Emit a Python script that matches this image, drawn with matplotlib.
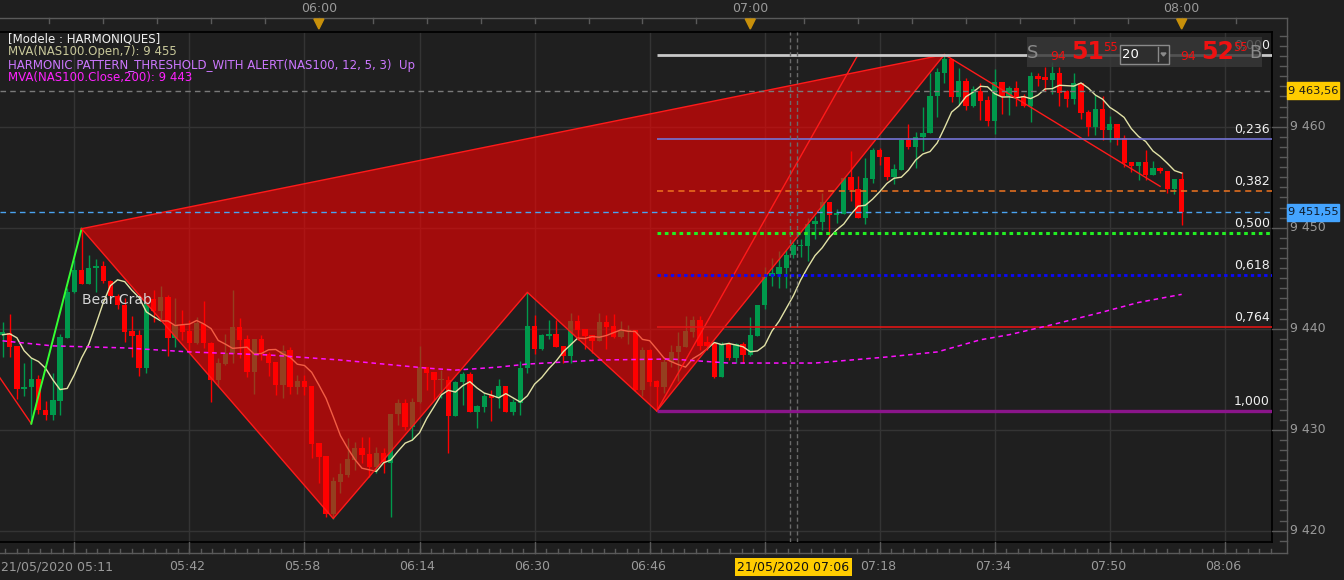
import numpy as np
import pandas as pd
import matplotlib
matplotlib.use("Agg")
import matplotlib.pyplot as plt
from matplotlib.patches import Rectangle, Polygon

# ---------------- data ----------------
start_time = "2020-05-21 05:16"
opens = [9439.4, 9439.6, 9438.3, 9434.0, 9434.2, 9435.0, 9432.0, 9431.5, 9432.8, 9439.1,
         9443.6, 9445.8, 9444.4, 9446.0, 9446.2, 9444.7, 9443.2, 9442.3, 9439.8, 9439.4,
         9436.1, 9442.9, 9441.8, 9443.1, 9439.1, 9440.4, 9439.8, 9438.6, 9440.5, 9438.6,
         9434.9, 9436.5, 9437.5, 9440.2, 9439.0, 9435.7, 9439.0, 9437.5, 9436.7, 9434.4,
         9437.9, 9434.2, 9434.8, 9434.3, 9428.7, 9427.4, 9421.7, 9424.8, 9425.5, 9427.0,
         9428.2, 9427.6, 9426.3, 9427.7, 9426.7, 9431.6, 9432.6, 9430.3, 9432.7, 9436.2,
         9435.7, 9434.9, 9434.9, 9431.4, 9434.7, 9435.5, 9431.8, 9432.2, 9433.4, 9433.1,
         9434.3, 9431.8, 9432.6, 9436.1, 9440.3, 9438.0, 9439.3, 9439.5, 9438.3, 9437.3,
         9440.8, 9440.0, 9439.4, 9438.8, 9440.7, 9440.3, 9439.2, 9439.8, 9439.9, 9433.9,
         9437.9, 9434.8, 9434.2, 9436.7, 9437.7, 9438.2, 9439.7, 9440.9, 9438.7, 9438.55,
         9435.25, 9438.5, 9437.1, 9438.5, 9437.4, 9439.3, 9442.3, 9445.2, 9445.4, 9446.0,
         9447.3, 9448.2, 9448.2, 9450.4, 9450.6, 9452.5, 9451.25, 9451.4, 9455.0, 9453.8,
         9451.0, 9454.8, 9457.7, 9457.0, 9455.0, 9455.7, 9458.7, 9458.0, 9459.0, 9459.4,
         9463.0, 9465.35, 9466.7, 9462.9, 9464.5, 9462.1, 9463.5, 9462.6, 9460.6, 9464.4,
         9463.0, 9463.8, 9463.0, 9462.1, 9465.0, 9464.9, 9464.6, 9465.35, 9463.5, 9462.7,
         9464.3, 9461.5, 9460.0, 9461.75, 9459.7, 9460.3, 9458.9, 9456.5, 9456.1, 9456.5,
         9455.2, 9455.9, 9455.6, 9453.8, 9454.8]
highs = [9440.7, 9441.5, 9438.3, 9436.6, 9437.1, 9435.4, 9432.8, 9435.6, 9439.5, 9444.0,
         9446.8, 9449.9, 9447.3, 9446.9, 9446.7, 9444.8, 9443.4, 9443.0, 9441.3, 9439.9,
         9442.7, 9443.8, 9444.2, 9443.3, 9443.0, 9441.9, 9440.9, 9441.2, 9442.7, 9438.7,
         9437.1, 9439.5, 9443.8, 9441.1, 9439.4, 9439.0, 9439.4, 9437.7, 9436.7, 9438.4,
         9438.2, 9435.4, 9435.4, 9434.3, 9428.7, 9427.4, 9425.3, 9426.7, 9429.2, 9428.8,
         9429.3, 9429.3, 9428.3, 9428.2, 9431.6, 9433.0, 9433.0, 9433.1, 9438.3, 9436.2,
         9435.7, 9435.9, 9435.3, 9434.8, 9435.7, 9435.7, 9432.4, 9433.6, 9433.9, 9435.0,
         9434.3, 9433.0, 9436.8, 9443.6, 9441.4, 9439.5, 9440.9, 9440.9, 9438.3, 9441.6,
         9441.4, 9440.0, 9439.4, 9441.6, 9441.4, 9441.5, 9440.8, 9440.4, 9439.9, 9438.2,
         9438.0, 9434.9, 9437.0, 9438.4, 9439.7, 9441.3, 9441.3, 9441.3, 9439.3, 9438.7,
         9438.7, 9438.7, 9438.6, 9438.7, 9441.2, 9442.3, 9446.1, 9447.0, 9447.7, 9447.8,
         9448.6, 9448.85, 9451.0, 9451.2, 9453.4, 9452.5, 9451.9, 9455.05, 9457.6, 9455.1,
         9456.9, 9457.9, 9457.9, 9457.0, 9456.3, 9458.75, 9460.3, 9459.5, 9462.0, 9465.3,
         9465.8, 9467.1, 9466.7, 9465.8, 9464.8, 9464.0, 9464.3, 9463.0, 9465.7, 9464.4,
         9464.0, 9464.5, 9463.2, 9465.4, 9465.3, 9465.9, 9466.4, 9465.9, 9463.6, 9465.3,
         9464.3, 9461.7, 9463.1, 9463.0, 9461.06, 9460.3, 9459.2, 9456.5, 9456.5, 9457.7,
         9456.6, 9456.0, 9455.6, 9454.8, 9455.5]
lows = [9437.2, 9437.2, 9433.0, 9433.3, 9430.6, 9431.6, 9431.0, 9431.0, 9431.5, 9439.1,
        9443.5, 9444.4, 9444.4, 9443.6, 9444.5, 9442.8, 9442.0, 9438.7, 9437.2, 9435.3,
        9435.6, 9440.7, 9440.9, 9437.3, 9438.2, 9438.9, 9437.7, 9438.5, 9438.1, 9432.7,
        9434.3, 9436.4, 9436.6, 9437.1, 9435.2, 9433.5, 9436.9, 9435.3, 9433.4, 9433.1,
        9433.5, 9433.5, 9433.4, 9427.2, 9424.7, 9421.4, 9421.2, 9423.7, 9425.3, 9426.0,
        9426.7, 9425.3, 9425.7, 9425.7, 9421.4, 9430.5, 9430.0, 9429.0, 9432.6, 9433.9,
        9432.9, 9433.1, 9427.7, 9431.4, 9432.4, 9431.8, 9430.2, 9431.8, 9430.9, 9432.1,
        9431.8, 9431.5, 9431.5, 9435.6, 9437.5, 9437.9, 9439.0, 9438.2, 9436.6, 9436.6,
        9438.9, 9438.0, 9437.6, 9438.8, 9438.0, 9439.1, 9439.1, 9438.5, 9433.8, 9433.3,
        9434.3, 9431.85, 9433.6, 9436.2, 9434.8, 9438.2, 9439.2, 9437.9, 9437.9, 9435.1,
        9435.2, 9436.9, 9436.6, 9436.6, 9437.3, 9439.3, 9442.0, 9444.2, 9444.0, 9444.0,
        9447.0, 9447.1, 9446.7, 9448.9, 9449.8, 9449.1, 9450.5, 9451.4, 9452.6, 9451.0,
        9450.4, 9454.4, 9456.2, 9454.7, 9454.3, 9455.7, 9457.8, 9455.9, 9457.6, 9459.4,
        9461.0, 9464.3, 9462.4, 9462.2, 9461.7, 9462.0, 9460.7, 9460.1, 9459.3, 9461.3,
        9461.2, 9462.1, 9462.0, 9460.5, 9464.0, 9463.5, 9463.2, 9462.1, 9462.0, 9462.3,
        9460.8, 9459.1, 9459.2, 9458.7, 9458.5, 9458.2, 9456.0, 9455.5, 9454.7, 9454.7,
        9455.2, 9455.4, 9453.4, 9453.3, 9450.3]
closes = [9439.7, 9438.2, 9434.0, 9434.2, 9435.0, 9432.0, 9431.5, 9432.9, 9439.2, 9443.6,
          9445.8, 9444.4, 9446.0, 9446.2, 9444.7, 9443.2, 9442.3, 9439.7, 9439.3, 9436.1,
          9442.5, 9441.8, 9443.1, 9439.1, 9440.4, 9439.7, 9438.6, 9440.6, 9438.6, 9434.9,
          9436.6, 9437.6, 9440.2, 9438.9, 9435.7, 9439.0, 9437.5, 9436.6, 9434.4, 9437.8,
          9434.2, 9434.8, 9434.2, 9428.6, 9427.3, 9421.7, 9424.9, 9425.6, 9427.1, 9428.2,
          9427.5, 9426.3, 9427.7, 9426.8, 9431.6, 9432.6, 9430.3, 9432.7, 9436.2, 9435.6,
          9434.9, 9435.0, 9431.4, 9434.7, 9435.5, 9431.8, 9432.3, 9433.3, 9433.1, 9434.3,
          9431.8, 9432.7, 9436.1, 9440.3, 9438.0, 9439.4, 9439.5, 9438.2, 9437.3, 9440.8,
          9439.9, 9439.3, 9438.8, 9440.7, 9440.2, 9439.2, 9439.8, 9439.9, 9433.9, 9437.9,
          9434.7, 9434.2, 9436.7, 9437.7, 9438.3, 9439.8, 9440.9, 9438.3, 9438.3, 9435.25,
          9438.5, 9437.1, 9438.5, 9437.4, 9439.4, 9442.3, 9445.15, 9445.5, 9446.1, 9447.3,
          9448.3, 9448.3, 9450.4, 9450.7, 9452.5, 9451.25, 9451.5, 9454.95, 9453.7, 9451.0,
          9454.95, 9457.7, 9457.0, 9455.0, 9455.8, 9458.7, 9458.0, 9459.0, 9459.4, 9463.0,
          9465.4, 9466.7, 9462.9, 9464.5, 9462.1, 9463.7, 9462.5, 9460.6, 9464.4, 9463.0,
          9463.8, 9462.9, 9462.1, 9465.05, 9464.7, 9464.6, 9465.35, 9463.3, 9462.7, 9464.3,
          9461.4, 9460.0, 9461.75, 9459.7, 9460.3, 9458.9, 9456.4, 9456.1, 9456.5, 9455.2,
          9455.9, 9455.65, 9453.8, 9454.8, 9451.55]

ma200_times = ["05:16", "05:23", "05:33", "05:42", "05:53", "06:03", "06:09", "06:15", "06:19",
               "06:25", "06:29", "06:39", "06:49", "06:57", "07:09", "07:19", "07:26", "07:32",
               "07:36", "07:42", "07:49", "07:54", "08:00"]
ma200_values = [9438.8, 9438.3, 9438.1, 9437.7, 9437.4, 9436.9, 9436.5, 9436.1, 9435.9,
                9436.2, 9436.5, 9436.9, 9437.0, 9436.6, 9436.6, 9437.2, 9437.7, 9438.9,
                9439.4, 9440.4, 9441.65, 9442.6, 9443.4]

pattern_times = ["05:15", "05:20", "05:27", "06:02", "06:29", "06:47", "07:27"]
pattern_prices = [9435.8, 9430.6, 9449.9, 9421.2, 9443.6, 9431.85, 9467.15]
pattern_name = "Bear Crab"
proj_up_times = ["06:47", "07:15"]
proj_up_prices = [9431.85, 9467.15]
proj_down_times = ["07:27", "07:57"]
proj_down_prices = [9467.15, 9454.1]

fib_ratios = [0.0, 0.236, 0.382, 0.5, 0.618, 0.764, 1.0]
fib_labels = ["0,000", "0,236", "0,382", "0,500", "0,618", "0,764", "1,000"]

last_price = 9451.55
marker_price = 9463.56
cursor_time = "07:06"
price_ticks = [9420, 9430, 9440, 9450, 9460]
hour_labels = ["06:00", "07:00", "08:00"]
time_labels = ["05:26", "05:42", "05:58", "06:14", "06:30", "06:46", "07:02",
               "07:18", "07:34", "07:50", "08:06"]
first_label = "21/05/2020 05:11"

# ---------------- helpers ----------------
t0 = pd.Timestamp(start_time)
day = start_time.split(" ")[0]


def tm(s):
    return (pd.Timestamp(day + " " + s) - t0) / pd.Timedelta("1min")


n = len(opens)
xs = np.arange(n, dtype=float)
o = np.array(opens); h = np.array(highs); l = np.array(lows); c = np.array(closes)
ma7 = pd.Series(o).rolling(7, min_periods=1).mean().values

BG = "#1f1f1f"
GRID = "#343434"
AXC = "#9a9a9a"
UP = "#00994c"
DN = "#ff0000"

W, H = 1344, 580
fig = plt.figure(figsize=(W / 100, H / 100), dpi=100, facecolor=BG)
plot_l, plot_t, plot_r, plot_b = 0.0, 31.7, 1271.7, 541.7
ax = fig.add_axes([plot_l / W, (H - plot_b) / H, (plot_r - plot_l) / W, (plot_b - plot_t) / H])
ax.set_facecolor(BG)
xmin, xmax = -0.35, 176.52
ymin, ymax = 9418.91, 9469.41
ax.set_xlim(xmin, xmax)
ax.set_ylim(ymin, ymax)
ax.set_xticks([]); ax.set_yticks([])
for s in ["top", "right", "bottom"]:
    ax.spines[s].set_color("#000000"); ax.spines[s].set_linewidth(1.3)
ax.spines["left"].set_visible(False)

grid_x = [tm(t) for t in time_labels]
for gx in grid_x:
    ax.axvline(gx, color=GRID, lw=1, zorder=0.5)
for gy in price_ticks:
    ax.axhline(gy, color=GRID, lw=1, zorder=0.5)

# candles
cols = [UP if cc >= oo else DN for oo, cc in zip(o, c)]
ax.vlines(xs, l, h, colors=cols, lw=1, zorder=2)
bot = np.minimum(o, c)
hgt = np.maximum(np.abs(c - o), 0.12)
ax.bar(xs, hgt, bottom=bot, width=0.74, color=cols, lw=0, zorder=2.1)

# MA7
ax.plot(xs, ma7, color="#e2e2a6", lw=1, zorder=3)

# harmonic pattern
px_ = [tm(t) for t in pattern_times]
ax.plot(px_[0:2], pattern_prices[0:2], color="#ff1a1a", lw=1, zorder=5)
ax.plot(px_[1:3], pattern_prices[1:3], color="#33ff33", lw=1.4, zorder=5)
poly_x = px_[2:] + [px_[2]]
poly_y = pattern_prices[2:] + [pattern_prices[2]]
ax.fill(px_[2:], pattern_prices[2:], color="#ff0000", alpha=0.59, lw=0, zorder=4)
ax.plot(poly_x, poly_y, color="#ff1a1a", lw=1, zorder=5)
ax.plot([tm(t) for t in proj_up_times], proj_up_prices, color="#ff1a1a", lw=1, zorder=5)
ax.plot([tm(t) for t in proj_down_times], proj_down_prices, color="#ff1a1a", lw=1, zorder=5)
ax.text(px_[2], 9442.8, pattern_name, color="#d6d6d6", fontsize=10, ha="left", va="center", zorder=7)

# fibonacci levels
d_x = px_[5]
top_p, bot_p = pattern_prices[6], pattern_prices[5]
fib_styles = [
    dict(color="#c8c8c8", lw=2.0, ls="-"),
    dict(color="#7474d6", lw=1.2, ls="-"),
    dict(color="#f07420", lw=1.1, ls=(0, (4, 3))),
    dict(color="#22ee22", lw=2.2, ls=(0, (1.2, 1.2))),
    dict(color="#0a0aff", lw=2.0, ls=(0, (1.2, 1.2))),
    dict(color="#e01515", lw=1.2, ls="-"),
    dict(color="#8a158a", lw=2.4, ls="-"),
]
for r, lab, st in zip(fib_ratios, fib_labels, fib_styles):
    lv = top_p - r * (top_p - bot_p)
    ax.plot([d_x, xmax], [lv, lv], zorder=5, solid_capstyle="butt", **st)
    ax.text(xmax - 0.25, lv + 0.25, lab, color="#f0f0f0", fontsize=9, ha="right", va="bottom", zorder=7)

# MA200
ax.plot([tm(t) for t in ma200_times], ma200_values, color="#ff10ff", lw=1.1,
        ls=(0, (3, 2.5)), zorder=6)

# price lines
ax.axhline(marker_price, color="#7a7a7a", lw=1, ls=(0, (4, 3)), zorder=5)
ax.axhline(last_price, color="#4aa3f0", lw=1, ls=(0, (4, 3)), zorder=5)
cx = tm(cursor_time)
for dx in (-0.5, 0.5):
    ax.axvline(cx + dx, color="#6a6a6a", lw=1, ls=(0, (3, 2)), zorder=5)

# ---------------- overlay for axes decorations ----------------
ov = fig.add_axes([0, 0, 1, 1])
ov.set_xlim(0, W); ov.set_ylim(H, 0); ov.axis("off"); ov.patch.set_alpha(0)


def to_px(x, y):
    d = ax.transData.transform((x, y))
    return d[0], H - d[1]


axis_line = "#5a5a5a"
# top axis
ov.plot([0, 1287], [18, 18], color=axis_line, lw=1)
hour_x = [to_px(tm(s), ymin)[0] for s in hour_labels]
tk = tm(hour_labels[0])
while tk - 7.5 > xmin:
    tk -= 7.5
while tk < xmax:
    xp = to_px(tk, ymin)[0]
    ov.plot([xp, xp], [18, 23], color=axis_line, lw=1)
    tk += 7.5
for s, hx in zip(hour_labels, hour_x):
    ov.text(hx, 9, s, color=AXC, fontsize=9, ha="center", va="center")
    ov.add_patch(Polygon([[hx - 5, 19], [hx + 5, 19], [hx, 29]], closed=True,
                         color="#c8900a", zorder=5))

# right axis
ov.plot([1287, 1287], [18, 553], color=axis_line, lw=1)
for p in np.arange(9419, 9470, 1):
    yp = to_px(xmin, p)[1]
    if yp < plot_t or yp > plot_b:
        continue
    x0 = 1272 if p % 10 == 0 else 1280
    ov.plot([x0, 1287], [yp, yp], color=axis_line, lw=1)
for p in price_ticks:
    yp = to_px(xmin, p)[1]
    ov.text(1290, yp, f"{p:,}".replace(",", " "), color=AXC, fontsize=9, ha="left", va="center")


def price_tag(p, bg, fg):
    yp = to_px(xmin, p)[1]
    ov.add_patch(Rectangle((1287, yp - 8.5), 52, 17, color=bg, zorder=6))
    txt = f"{p:,.2f}".replace(",", " ").replace(".", ",")
    ov.text(1313, yp, txt, color=fg, fontsize=8.2, ha="center", va="center", zorder=7)


price_tag(marker_price, "#ffcc00", "#1a1a1a")
price_tag(last_price, "#44a4ff", "#0d1a2a")

# bottom axis
ov.plot([0, 1287], [553, 553], color=axis_line, lw=1)
tk = grid_x[0]
while tk - 1.6 > xmin:
    tk -= 1.6
while tk < xmax:
    xp = to_px(tk, ymin)[0]
    ov.plot([xp, xp], [549, 553], color=axis_line, lw=1)
    tk += 1.6
for gx, s in zip(grid_x, time_labels):
    xp = to_px(gx, ymin)[0]
    ov.plot([xp, xp], [plot_b, 553], color=axis_line, lw=1)
    if s in (time_labels[0], time_labels[6]):
        continue
    ov.text(xp - 2, 567, s, color=AXC, fontsize=9, ha="center", va="center")
ov.text(1, 567, first_label, color=AXC, fontsize=9, ha="left", va="center")
cxp = to_px(cx, ymin)[0]
ov.text(cxp, 567, f"{day[8:10]}/{day[5:7]}/{day[0:4]} {cursor_time}", color="#111111",
        fontsize=9, ha="center", va="center", zorder=7,
        bbox=dict(boxstyle="square,pad=0.2", fc="#ffcc00", ec="none"))

# legend
leg = [("[Modele : HARMONIQUES]", "#f0f0f0"),
       (f"MVA(NAS100.Open,7): {ma7[-1]:,.0f}".replace(",", " ").replace("Open 7", "Open,7"), "#c8c89a"),
       ("HARMONIC PATTERN_THRESHOLD_WITH ALERT(NAS100, 12, 5, 3)  Up", "#cc77ff"),
       (f"MVA(NAS100.Close,200): {ma200_values[-1]:,.0f}".replace(",", " ").replace("Close 200", "Close,200"), "#ff22ff")]
for i, (s, col) in enumerate(leg):
    ov.text(8, 39 + 13 * i, s, color=col, fontsize=8.5, ha="left", va="center")

# trading widget
ov.add_patch(Rectangle((1027, 37), 235, 30, fc="#383838", ec="none", alpha=0.82, zorder=8))
ov.text(1033, 53, "S", color="#8a8a8a", fontsize=13, ha="center", va="center", zorder=9)
ov.text(1058, 56, "94", color="#ee1111", fontsize=9, ha="center", va="center", zorder=9)
ov.text(1088, 52, "51", color="#ee1111", fontsize=17, fontweight="bold", ha="center", va="center", zorder=9)
ov.text(1111, 47.5, "55", color="#ee1111", fontsize=8.5, ha="center", va="center", zorder=9)
ov.add_patch(Rectangle((1120, 44.5), 48.5, 19, fc="#2e2e2e", ec="#8a8a8a", lw=1, zorder=9))
ov.plot([1157.7, 1157.7], [47, 61], color="#8a8a8a", lw=1, zorder=10)
ov.add_patch(Polygon([[1161, 53], [1166, 53], [1163.5, 56]], closed=True, color="#8a8a8a", zorder=10))
ov.text(1122, 54, "20", color="#ffffff", fontsize=9.5, ha="left", va="center", zorder=10)
ov.text(1188, 56, "94", color="#ee1111", fontsize=9, ha="center", va="center", zorder=9)
ov.text(1218, 52, "52", color="#ee1111", fontsize=17, fontweight="bold", ha="center", va="center", zorder=9)
ov.text(1240, 47.5, "55", color="#ee1111", fontsize=8.5, ha="center", va="center", zorder=9)
ov.text(1255, 53, "B", color="#8a8a8a", fontsize=13, ha="center", va="center", zorder=9)

fig.savefig("out.png", dpi=100, facecolor=BG)
